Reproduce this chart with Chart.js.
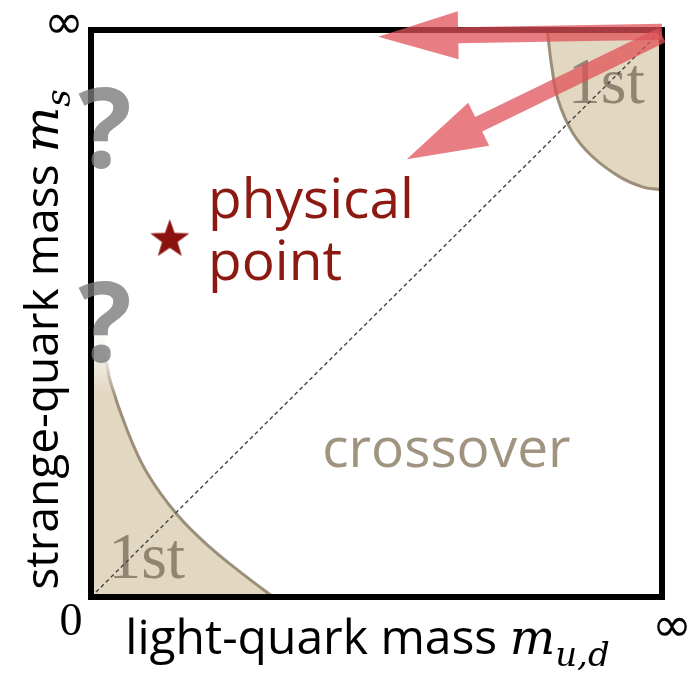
<!DOCTYPE html>
<html>
<head>
<meta charset="utf-8">
<script src="https://cdn.jsdelivr.net/npm/chart.js@4/dist/chart.umd.min.js"></script>
<style>
  html, body { margin: 0; padding: 0; background: #ffffff; }
</style>
</head>
<body>
<canvas id="columbia" width="697" height="673"></canvas>
<script>
// Boundary of the first-order region at small quark masses (x = m_ud, y = m_s, 0..1 = 0..inf)
const lowBoundaryX = [0.000, 0.020, 0.027, 0.034, 0.063, 0.098, 0.151, 0.208, 0.273, 0.319];
const lowBoundaryY = [0.470, 0.470, 0.420, 0.380, 0.295, 0.219, 0.145, 0.088, 0.035, 0.000];
// Boundary of the first-order region at large quark masses
const highBoundaryX = [0.799, 0.807, 0.818, 0.844, 0.879, 0.926, 0.967, 1.000];
const highBoundaryY = [1.000, 0.935, 0.877, 0.818, 0.776, 0.741, 0.723, 0.718];
// Symmetric line m_ud = m_s
const diagonalX = [0, 1];
const diagonalY = [0, 1];
// Physical quark masses
const physicalX = [0.138];
const physicalY = [0.633];
// Outer box of the mass plane
const frameX = [0, 1, 1, 0, 0];
const frameY = [0, 0, 1, 1, 0];
// Arrows leaving the pure-gauge corner
const arrowTailX = [1.000, 1.000];
const arrowTailY = [0.997, 0.991];
const arrowTipX = [0.503, 0.553];
const arrowTipY = [0.988, 0.772];
// Axis end labels
const tickLabels = ['0', '\u221E'];
const xTitle = ['light-quark mass', 'm', 'u,d'];
const yTitle = ['strange-quark mass', 'm', 's'];

const zip = (xs, ys) => xs.map((x, i) => ({ x, y: ys[i] }));

const BEIGE = 'rgb(226,215,193)';
const EDGE = 'rgb(155,143,121)';
const FIRST_TEXT = 'rgba(140,128,108,0.95)';
const RED = '#8c1a12';

// filled star used as the marker of the physical point
function makeStar(rOut, rIn, color) {
  const c = document.createElement('canvas');
  const s = Math.ceil(rOut * 2 + 4);
  c.width = s; c.height = s;
  const g = c.getContext('2d');
  g.beginPath();
  for (let i = 0; i < 10; i++) {
    const r = i % 2 === 0 ? rOut : rIn;
    const a = -Math.PI / 2 + i * Math.PI / 5;
    const px = s / 2 + r * Math.cos(a), py = s / 2 + 1.5 + r * Math.sin(a);
    if (i === 0) g.moveTo(px, py); else g.lineTo(px, py);
  }
  g.closePath();
  g.fillStyle = color;
  g.fill();
  return c;
}
const starImg = makeStar(20.5, 8.2, '#8b120e');

function vGradient(chart, yTop, yBottom, rgb) {
  const y = chart.scales.y;
  const g = chart.ctx.createLinearGradient(0, y.getPixelForValue(yTop), 0, y.getPixelForValue(yBottom));
  g.addColorStop(0, 'rgba(' + rgb + ',0)');
  g.addColorStop(1, 'rgba(' + rgb + ',1)');
  return g;
}

// "1st" labels sit on top of each shaded region, below the diagonal
const regionLabels = {
  id: 'regionLabels',
  afterDatasetDraw(chart, args) {
    const lbl = args.meta._dataset.regionLabel;
    if (!lbl) return;
    const { ctx, scales } = chart;
    ctx.save();
    ctx.font = '66px "Liberation Serif"';
    ctx.fillStyle = FIRST_TEXT;
    ctx.textAlign = 'left';
    ctx.textBaseline = 'alphabetic';
    ctx.fillText('1st', scales.x.getPixelForValue(lbl[0]), scales.y.getPixelForValue(lbl[1]));
    ctx.restore();
  }
};

function drawArrow(ctx, tx, ty, px, py) {
  const dx = px - tx, dy = py - ty;
  const len = Math.hypot(dx, dy);
  const ux = dx / len, uy = dy / len;
  const nx = -uy, ny = ux;
  const w = 8, H = 24, L = 80;
  const bx = px - ux * L, by = py - uy * L;
  ctx.beginPath();
  ctx.moveTo(tx + nx * w, ty + ny * w);
  ctx.lineTo(bx + nx * w, by + ny * w);
  ctx.lineTo(bx + nx * H, by + ny * H);
  ctx.lineTo(px, py);
  ctx.lineTo(bx - nx * H, by - ny * H);
  ctx.lineTo(bx - nx * w, by - ny * w);
  ctx.lineTo(tx - nx * w, ty - ny * w);
  ctx.closePath();
  ctx.fill();
}

const annotations = {
  id: 'annotations',
  afterDatasetsDraw(chart) {
    const { ctx, scales } = chart;
    const X = v => scales.x.getPixelForValue(v);
    const Y = v => scales.y.getPixelForValue(v);
    ctx.save();

    // region names
    ctx.textAlign = 'left';
    ctx.textBaseline = 'alphabetic';
    ctx.fillStyle = RED;
    ctx.font = '55px "Open Sans"';
    ctx.fillText('physical', X(0.205), Y(0.668));
    ctx.fillText('point', X(0.205), Y(0.559));
    ctx.fillStyle = 'rgb(160,148,128)';
    ctx.font = '55px "Open Sans"';
    ctx.fillText('crossover', X(0.405), Y(0.229));

    // open questions on the m_ud = 0 edge
    ctx.fillStyle = 'rgba(121,121,121,0.78)';
    ctx.font = 'bold 112px "Open Sans"';
    ctx.textAlign = 'center';
    ctx.fillText('?', X(0.0245), Y(0.757));
    ctx.fillText('?', X(0.0245), Y(0.414));

    // arrows
    ctx.fillStyle = 'rgba(224,81,88,0.74)';
    for (let i = 0; i < arrowTailX.length; i++) {
      drawArrow(ctx, X(arrowTailX[i]), Y(arrowTailY[i]), X(arrowTipX[i]), Y(arrowTipY[i]));
    }

    // axis end labels
    ctx.fillStyle = '#000';
    ctx.textBaseline = 'middle';
    ctx.textAlign = 'center';
    ctx.font = '46px "Liberation Serif"';
    ctx.fillText(tickLabels[0], X(0) - 20, Y(0) + 26);
    ctx.font = '48px "DejaVu Sans"';
    ctx.fillText(tickLabels[1], X(1) + 10, Y(0) + 32);
    ctx.fillText(tickLabels[1], X(0) - 27, Y(1) - 4);

    // axis titles: words, then italic symbol with subscript
    function title(parts, size, mSize, subSize) {
      ctx.textAlign = 'left';
      ctx.textBaseline = 'alphabetic';
      ctx.font = size + 'px "Open Sans"';
      const w0 = ctx.measureText(parts[0] + ' ').width;
      ctx.font = 'italic ' + mSize + 'px "DejaVu Serif"';
      const w1 = ctx.measureText(parts[1]).width;
      ctx.font = 'italic ' + subSize + 'px "DejaVu Serif"';
      const w2 = ctx.measureText(parts[2]).width;
      const total = w0 + w1 + w2;
      let x = -total / 2;
      ctx.font = size + 'px "Open Sans"';
      ctx.fillText(parts[0], x, 0);
      x += w0;
      ctx.font = 'italic ' + mSize + 'px "DejaVu Serif"';
      ctx.fillText(parts[1], x, 0);
      x += w1;
      ctx.font = 'italic ' + subSize + 'px "DejaVu Serif"';
      ctx.fillText(parts[2], x, 12);
    }
    ctx.fillStyle = '#000';
    ctx.save();
    ctx.translate((X(0) + X(1)) / 2 - 9, Y(0) + 57);
    title(xTitle, 48, 48, 34);
    ctx.restore();
    ctx.save();
    ctx.translate(X(0) - 33, (Y(0) + Y(1)) / 2 + 26);
    ctx.rotate(-Math.PI / 2);
    title(yTitle, 46, 48, 34);
    ctx.restore();

    ctx.restore();
  }
};

new Chart(document.getElementById('columbia'), {
  type: 'line',
  data: {
    datasets: [
      {
        data: zip(physicalX, physicalY),
        showLine: false,
        pointStyle: starImg,
        pointRadius: 20,
        order: 1
      },
      {
        data: zip(frameX, frameY),
        borderColor: '#000',
        borderWidth: 6,
        borderCapStyle: 'square',
        borderJoinStyle: 'miter',
        pointRadius: 0,
        tension: 0,
        fill: false,
        clip: false,
        order: 3
      },
      {
        data: zip(diagonalX, diagonalY),
        borderColor: '#444',
        borderWidth: 1.4,
        borderDash: [4, 3],
        pointRadius: 0,
        tension: 0,
        fill: false,
        order: 5
      },
      {
        data: zip(highBoundaryX, highBoundaryY),
        borderColor: EDGE,
        borderWidth: 3,
        backgroundColor: BEIGE,
        pointRadius: 0,
        tension: 0.4,
        fill: 'end',
        regionLabel: [0.835, 0.871],
        order: 9
      },
      {
        data: zip(lowBoundaryX, lowBoundaryY),
        borderColor: ctx => ctx.chart.chartArea ? vGradient(ctx.chart, 0.43, 0.35, '155,143,121') : EDGE,
        borderWidth: 3,
        backgroundColor: ctx => ctx.chart.chartArea ? vGradient(ctx.chart, 0.47, 0.36, '226,215,193') : BEIGE,
        pointRadius: 0,
        tension: 0.4,
        fill: 'origin',
        regionLabel: [0.030, 0.0335],
        order: 10
      }
    ]
  },
  options: {
    responsive: false,
    animation: false,
    layout: { padding: { left: 91, right: 35, top: 30, bottom: 76 } },
    scales: {
      x: { type: 'linear', min: 0, max: 1, display: false },
      y: { type: 'linear', min: 0, max: 1, display: false }
    },
    plugins: {
      legend: { display: false },
      tooltip: { enabled: false }
    }
  },
  plugins: [regionLabels, annotations]
});
</script>
</body>
</html>
